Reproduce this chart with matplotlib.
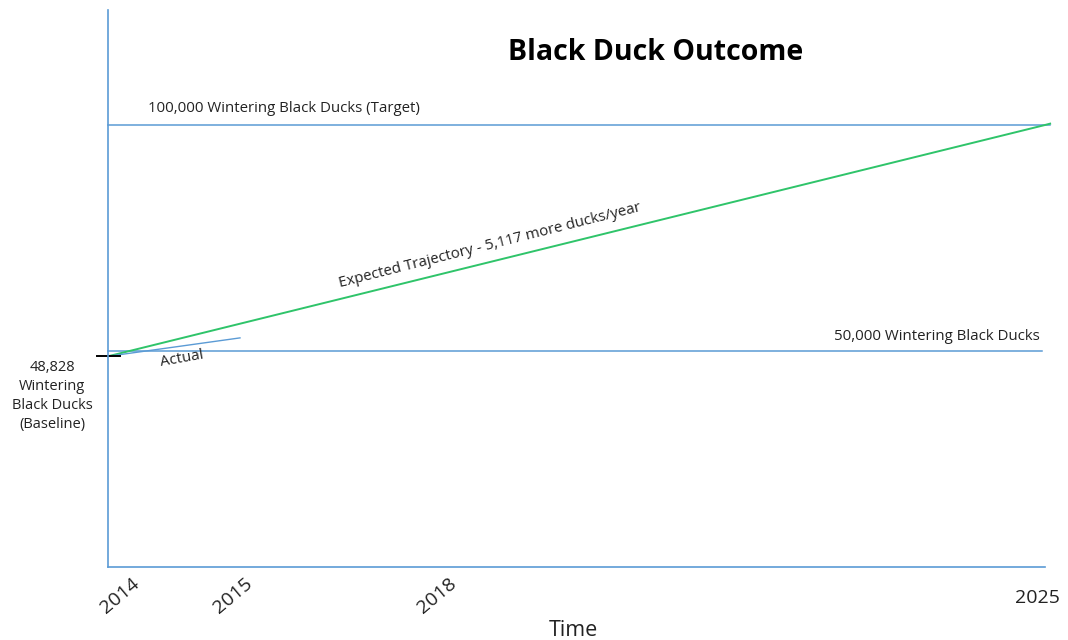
import numpy as np
import matplotlib
matplotlib.use("Agg")
import matplotlib.pyplot as plt
import matplotlib.transforms as mtransforms

# ---- data ----
years = [2014, 2015, 2018, 2025]
tick_labels = ["2014", "2015", "2018", "2025"]
baseline = 48828
mid_level = 50000
target = 100000
expected_x = [2014, 2025]
expected_y = [48828, 100000]
actual_x = [2014, 2015]
actual_y = [48828, 52900]

# ---- layout ----
plt.rcParams['font.family'] = ['Open Sans', 'DejaVu Sans']
blue = '#5b9bd5'
green = '#2fc46a'
txt = '#222222'

fig = plt.figure(figsize=(10.68, 6.4), dpi=100)
ax = fig.add_axes([108/1068, 1-567/640, (1045-108)/1068, (567-10)/640])

# piecewise time scale (schematic axis)
xp_years = np.array([2014, 2015, 2018, 2025], dtype=float)
xp_pos = np.array([0.0, 132.0, 337.0, 937.0])
def fwd(x):
    x = np.asarray(x, dtype=float)
    return np.where(x < 2014, (x-2014)*132,
                    np.where(x > 2025, 937+(x-2025)*85.7, np.interp(x, xp_years, xp_pos)))
def inv(p):
    p = np.asarray(p, dtype=float)
    return np.where(p < 0, 2014 + p/132,
                    np.where(p > 937, 2025+(p-937)/85.7, np.interp(p, xp_pos, xp_years)))
ax.set_xscale('function', functions=(fwd, inv))
ax.set_xlim(2014, 2025)
ax.set_ylim(2212, 125442)

for s in ['top', 'right']:
    ax.spines[s].set_visible(False)
for s in ['left', 'bottom']:
    ax.spines[s].set_color(blue)
    ax.spines[s].set_linewidth(1.2)
ax.set_yticks([])
ax.set_xticks([])

ax.plot([2014, 2025.06], [target, target], color=blue, lw=1.1, clip_on=False)
ax.plot([2014, 2024.97], [mid_level, mid_level], color=blue, lw=1.1, clip_on=False)
ax.plot(expected_x + [2025.06], expected_y + [100300], color=green, lw=1.4, clip_on=False)
ax.plot(actual_x, actual_y, color=blue, lw=1.0, clip_on=False)
ax.plot([2013.92, 2014.09], [baseline, baseline], color='black', lw=1.4, clip_on=False)

# tick labels
offs = {2014: 12, 2015: -7, 2018: -8, 2025: -8}
blend = mtransforms.blended_transform_factory(ax.transData, ax.transAxes)
for yv, lab in zip(years, tick_labels):
    tr = blend + mtransforms.ScaledTranslation(offs[yv]/100, 0, fig.dpi_scale_trans)
    if yv == 2025:
        ax.text(yv, -0.055, lab, transform=tr, ha='center', va='center',
                fontsize=14, color=txt)
    else:
        ax.text(yv, -0.052, lab, transform=tr, ha='center', va='center', rotation=40,
                fontsize=14, color=txt)

fig.text(573/1068, 1-630/640, "Time", ha='center', va='center', fontsize=15.5, color=txt)

fig.text(656/1068, 1-53/640, "Black Duck Outcome", ha='center', va='center',
         fontsize=20.5, fontweight='bold', color='black')

fig.text(148/1068, 1-108/640, "100,000 Wintering Black Ducks (Target)", ha='left', va='center',
         fontsize=10.8, color=txt)
fig.text(1040/1068, 1-336/640, "50,000 Wintering Black Ducks", ha='right', va='center',
         fontsize=10.8, color=txt)
fig.text(490/1068, 1-246/640, "Expected Trajectory - 5,117 more ducks/year", ha='center', va='center',
         rotation=14.2, rotation_mode='anchor', fontsize=10.8, color=txt)
fig.text(182/1068, 1-359/640, "Actual", ha='center', va='center', rotation=10,
         rotation_mode='anchor', fontsize=10.8, color=txt)
fig.text(52/1068, 1-396/640, "48,828\nWintering\nBlack Ducks\n(Baseline)", ha='center', va='center',
         fontsize=10.5, color=txt, linespacing=1.35)

fig.savefig("out.png", dpi=100, facecolor='white')
